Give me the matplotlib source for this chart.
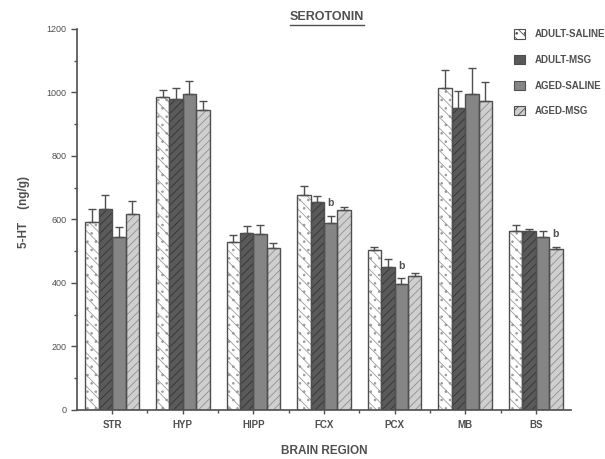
import numpy as np
import matplotlib.pyplot as plt
from matplotlib.patches import Patch
from matplotlib.lines import Line2D

regions = ["STR", "HYP", "HIPP", "FCX", "PCX", "MB", "BS"]
groups = ["ADULT-SALINE", "ADULT-MSG", "AGED-SALINE", "AGED-MSG"]

adult_saline = [593, 985, 528, 677, 504, 1013, 564]
adult_msg = [632, 978, 558, 656, 449, 952, 565]
aged_saline = [543, 995, 553, 588, 397, 994, 543]
aged_msg = [617, 945, 510, 630, 422, 973, 506]

adult_saline_err = [40, 23, 24, 29, 8, 58, 17]
adult_msg_err = [45, 35, 22, 19, 26, 51, 4]
aged_saline_err = [32, 42, 28, 23, 17, 82, 19]
aged_msg_err = [42, 29, 15, 8, 9, 61, 8]

# "b" marks: (region index, group index)
sig_marks = [(3, 2), (4, 2), (6, 3)]

means = [adult_saline, adult_msg, aged_saline, aged_msg]
errs = [adult_saline_err, adult_msg_err, aged_saline_err, aged_msg_err]
faces = ["white", "#5a5a5a", "#858585", "#cfcfcf"]
hatches = ["\\\\\\..", "////", "", "////"]
hcolors = ["#9a9a9a", "#333333", "#858585", "#8f8f8f"]

ink = "#4f4f4f"
plt.rcParams["font.family"] = ["Liberation Sans", "DejaVu Sans"]
plt.rcParams["hatch.linewidth"] = 0.6

fig = plt.figure(figsize=(6.05, 4.59), dpi=100)
ax = fig.add_axes([0.127, 0.107, 0.817, 0.830])

x = np.arange(len(regions))
w = 0.19
for i in range(4):
    pos = x + (i - 1.5) * w
    ax.bar(pos, means[i], w, color=faces[i], edgecolor=hcolors[i], hatch=hatches[i],
           linewidth=0, zorder=2)
    ax.bar(pos, means[i], w, color="none", edgecolor=ink, linewidth=1.0, zorder=3)
    ax.errorbar(pos, means[i], yerr=[np.zeros(len(regions)), errs[i]], fmt="none",
                ecolor=ink, elinewidth=1.0, capsize=3, capthick=1.0, zorder=4)

for r, g in sig_marks:
    ax.text(x[r] + (g - 1.5) * w, means[g][r] + errs[g][r] + 25, "b",
            ha="center", va="bottom", fontsize=7.5, color=ink, fontweight="bold")

ax.set_xlim(-0.5, 6.5)
ax.set_ylim(0, 1200)
ax.set_yticks(np.arange(0, 1201, 200))
ax.set_yticks(np.arange(0, 1201, 100), minor=True)
ax.set_xticks(x)
ax.set_xticks(x[:-1] + 0.5, minor=True)
ax.set_xticklabels(regions, fontsize=7, fontweight="bold", color=ink)
ax.tick_params(axis="y", labelsize=6.5, colors=ink, length=4, width=1)
ax.tick_params(axis="y", which="minor", length=2.5, width=1, colors=ink)
ax.tick_params(axis="x", length=3, width=1, colors=ink, pad=4)
ax.tick_params(axis="x", which="minor", length=2, width=1, colors=ink)
for s in ["top", "right"]:
    ax.spines[s].set_visible(False)
for s in ["left", "bottom"]:
    ax.spines[s].set_color(ink)
    ax.spines[s].set_linewidth(1.2)

ax.set_xlabel("BRAIN REGION", fontsize=8.5, fontweight="bold", color=ink, labelpad=11)
ax.set_ylabel("5-HT    (ng/g)", fontsize=8.5, fontweight="bold", color=ink, labelpad=16)
ax.yaxis.set_label_coords(-0.095, 0.52)

title = fig.text(0.54, 0.962, "SEROTONIN", ha="center", va="center",
                 fontsize=9, fontweight="bold", color=ink)
fig.canvas.draw()
bb = title.get_window_extent().transformed(fig.transFigure.inverted())
fig.add_artist(Line2D([bb.x0, bb.x1], [bb.y0 - 0.004, bb.y0 - 0.004],
                      transform=fig.transFigure, color=ink, linewidth=1.0))

handles = [Patch(facecolor=faces[i], edgecolor=ink, hatch=hatches[i], linewidth=0.8)
           for i in range(4)]
fig.legend(handles, groups, loc="upper left", bbox_to_anchor=(0.835, 0.955),
           frameon=False, handlelength=1.1, handleheight=1.1,
           labelspacing=1.6, handletextpad=1.0, labelcolor=ink,
           prop={"weight": "bold", "size": 7})

fig.savefig("out.png", dpi=100)
